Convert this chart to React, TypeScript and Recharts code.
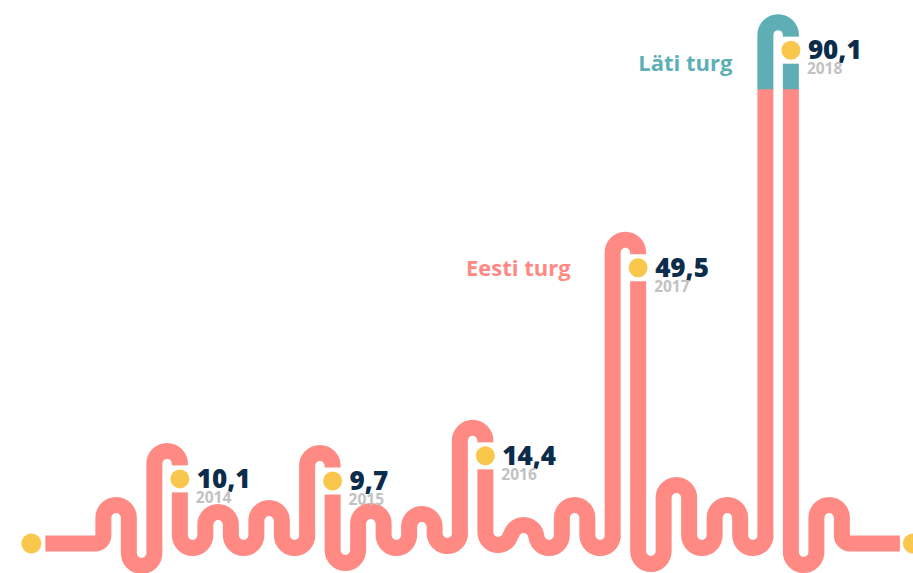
import { BarChart, Bar, XAxis, YAxis } from "recharts";

const years = ["2014", "2015", "2016", "2017", "2018"];
const eesti = [10.1, 9.7, 14.4, 49.5, 77.6];
const lati = [0, 0, 0, 0, 12.5];
const seriesNames = ["Eesti turg", "Läti turg"];

const data = years.map((year, i) => ({ year, eesti: eesti[i], lati: lati[i] }));

// decorative wiggles of the pipe (px below the zero line), alternating turns
const WIGGLES = [
  [0, 61], // lead-in: top, bottom
  [43, 7, 43, 3, 43],
  [58, 6, 43, 9, 41],
  [40, 20, 43, 0, 43],
  [59, -20, 43, 0, 43],
  [60, 0], // lead-out: bottom, top
];

const SALMON = "#FF8A84";
const TEAL = "#5EAFB5";
const YELLOW = "#F9C74C";
const NAVY = "#0C2C4C";
const GRAY = "#C2C2C2";
const PIPE = 16;
const FLAT = 38.5; // level of the flat ends
const LEAD = 58;
const RC = 8;
const FONT = "'Open Sans', sans-serif";

const eestiLabelAt = lati.lastIndexOf(0);
const latiLabelAt = lati.findIndex((v) => v > 0);

const fmt = (v: number) => v.toFixed(1).replace(".", ",");

function wiggle(x0: number, levels: number[], up: boolean, base: number, r: number) {
  let d = "";
  let x = x0;
  for (const lvl of levels) {
    const yy = base + lvl + (up ? r : -r);
    d += ` V${yy} A${r} ${r} 0 0 ${up ? 1 : 0} ${x + 2 * r} ${yy}`;
    x += 2 * r;
    up = !up;
  }
  return d;
}

function Marker({ xR, top, total, year }: { xR: number; top: number; total: number; year: string }) {
  const dy = top + 28;
  return (
    <g>
      <rect x={xR - 9} y={dy - 13.5} width={18} height={27} fill="#fff" />
      <circle cx={xR} cy={dy} r={9.5} fill={YELLOW} />
      <text x={xR + 17} y={dy + 9} fontSize={26} fontWeight={800} fill={NAVY} fontFamily={FONT}>
        {fmt(total)}
      </text>
      <text x={xR + 16} y={dy + 24} fontSize={15.5} fontWeight={700} fill={GRAY} fontFamily={FONT}>
        {year}
      </text>
    </g>
  );
}

function EestiShape(props: any) {
  const { x, y, width, height, index, payload } = props;
  const step = width / 6;
  const r = step / 2;
  const cx = x + width / 2;
  const xL = cx - r;
  const xR = cx + r;
  const base = y + height;
  const hasTop = !(payload.lati > 0);
  const isLast = index === years.length - 1;
  const extras = [];

  let d = "";
  if (index === 0) {
    const x0 = xL - 2 * step;
    d += `M${x0 - LEAD} ${base + FLAT} H${x0 - RC} A${RC} ${RC} 0 0 0 ${x0} ${base + FLAT - RC}`;
    d += wiggle(x0, WIGGLES[0], true, base, r);
    extras.push(<circle key="s" cx={x0 - LEAD - 14} cy={base + FLAT} r={10} fill={YELLOW} />);
  } else {
    const prev = WIGGLES[index];
    d += `M${xL} ${base + prev[prev.length - 1] - r + 1}`;
  }
  d += hasTop ? ` V${y + r} A${r} ${r} 0 0 1 ${xR} ${y + r}` : ` V${y - 1} M${xR} ${y - 1}`;
  d += wiggle(xR, WIGGLES[index + 1], false, base, r);
  if (isLast) {
    const xe = xR + 2 * step;
    d += ` V${base + FLAT - RC} A${RC} ${RC} 0 0 0 ${xe + RC} ${base + FLAT} H${xe + LEAD}`;
    extras.push(<circle key="e" cx={xe + LEAD + 13} cy={base + FLAT} r={10} fill={YELLOW} />);
  }

  return (
    <g>
      <path d={d} fill="none" stroke={SALMON} strokeWidth={PIPE} />
      {extras}
      {hasTop && <Marker xR={xR} top={y} total={payload.eesti + payload.lati} year={payload.year} />}
      {index === eestiLabelAt && (
        <text x={xL - 42} y={y + 36.5} textAnchor="end" fontSize={22} fontWeight={700} fill={SALMON} fontFamily={FONT}>
          {seriesNames[0]}
        </text>
      )}
    </g>
  );
}

function LatiShape(props: any) {
  const { x, y, width, height, index, payload } = props;
  if (!(payload.lati > 0)) return <g />;
  const r = width / 12;
  const cx = x + width / 2;
  const xL = cx - r;
  const xR = cx + r;
  const bottom = y + height;
  const d = `M${xL} ${bottom} V${y + r} A${r} ${r} 0 0 1 ${xR} ${y + r} V${bottom}`;
  return (
    <g>
      <path d={d} fill="none" stroke={TEAL} strokeWidth={PIPE} />
      <Marker xR={xR} top={y} total={payload.eesti + payload.lati} year={payload.year} />
      {index === latiLabelAt && (
        <text x={xL - 33} y={(y + bottom) / 2 + 15} textAnchor="end" fontSize={22} fontWeight={700} fill={TEAL} fontFamily={FONT}>
          {seriesNames[1]}
        </text>
      )}
    </g>
  );
}

export default function App() {
  return (
    <div style={{ position: "absolute", left: 0, top: 0, width: 913, height: 573, background: "#fff" }}>
      <BarChart
        width={913}
        height={573}
        data={data}
        margin={{ top: 12, right: 58.6, bottom: 68, left: 90.6 }}
        barCategoryGap={0}
        barGap={0}
      >
        <XAxis dataKey="year" hide />
        <YAxis hide domain={[0, 92]} />
        <Bar dataKey="eesti" stackId="a" name={seriesNames[0]} shape={EestiShape} isAnimationActive={false} />
        <Bar dataKey="lati" stackId="a" name={seriesNames[1]} shape={LatiShape} isAnimationActive={false} />
      </BarChart>
    </div>
  );
}
